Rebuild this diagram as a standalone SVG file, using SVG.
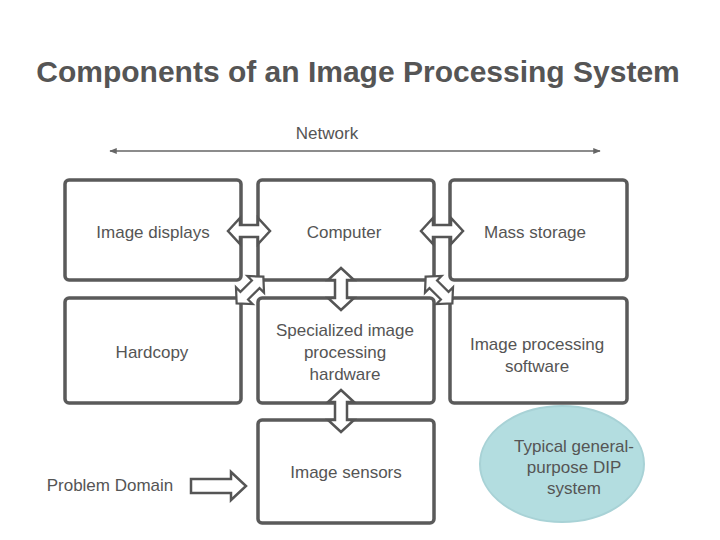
<svg xmlns="http://www.w3.org/2000/svg" width="720" height="540" viewBox="0 0 720 540">
<defs>
<style>
.box{fill:#fff;stroke:#5a5a5a;stroke-width:3.5}
.t{font-family:"Liberation Sans",Arial,sans-serif;font-size:17px;fill:#555;text-anchor:middle}
.title{font-family:"Liberation Sans",Arial,sans-serif;font-size:30px;font-weight:bold;fill:#555;text-anchor:middle}
.arr{fill:#fff;stroke:#555;stroke-width:2.5;stroke-linejoin:miter}
</style>
<path id="dbl" d="M -21,0 L -9,-13 L -9,-6 L 9,-6 L 9,-13 L 21,0 L 9,13 L 9,6 L -9,6 L -9,13 Z"/>
<marker id="ah" viewBox="0 0 10 10" refX="9" refY="5" markerWidth="5" markerHeight="5" orient="auto-start-reverse">
<path d="M0,1 L10,5 L0,9 Z" fill="#666"/>
</marker>
</defs>
<rect width="720" height="540" fill="#fff"/>
<text class="title" x="358" y="82">Components of an Image Processing System</text>
<g id="network">
<text class="t" x="327" y="139" font-size="14">Network</text>
</g>
<g id="n-displays"><rect class="box" x="65" y="180" width="176" height="100" rx="4"/><text class="t" x="153" y="238">Image displays</text></g>
<g id="n-computer"><rect class="box" x="258" y="180" width="176" height="100" rx="4"/><text class="t" x="344" y="238">Computer</text></g>
<g id="n-storage"><rect class="box" x="450" y="180" width="177" height="100" rx="4"/><text class="t" x="535" y="238">Mass storage</text></g>
<g id="n-hardcopy"><rect class="box" x="65" y="298" width="176" height="105" rx="4"/><text class="t" x="152" y="358">Hardcopy</text></g>
<g id="n-hw"><rect class="box" x="258" y="298" width="176" height="105" rx="4"/><text class="t" x="345" y="336">Specialized image</text><text class="t" x="345" y="358">processing</text><text class="t" x="345" y="380">hardware</text></g>
<g id="n-software"><rect class="box" x="450" y="298" width="177" height="105" rx="4"/><text class="t" x="537" y="350">Image processing</text><text class="t" x="537" y="372">software</text></g>
<g id="n-sensors"><rect class="box" x="258" y="420" width="176" height="103" rx="4"/><text class="t" x="346" y="478">Image sensors</text></g>
<g id="n-dip"><ellipse cx="562" cy="464" rx="82" ry="58" fill="#b3dde0" stroke="#a8d2d6" stroke-width="2"/><text class="t" x="574" y="452" font-size="15">Typical general-</text><text class="t" x="574" y="473" font-size="15">purpose DIP</text><text class="t" x="574" y="494" font-size="15">system</text></g>
<g id="n-problem"><text class="t" x="110" y="491">Problem Domain</text></g>
<g id="connectors">
<line x1="110" y1="151" x2="600" y2="151" stroke="#666" stroke-width="1.5" marker-start="url(#ah)" marker-end="url(#ah)"/>
<use href="#dbl" class="arr" transform="translate(249,231)"/>
<use href="#dbl" class="arr" transform="translate(442,231)"/>
<use href="#dbl" class="arr" transform="translate(341,289) rotate(90)"/>
<use href="#dbl" class="arr" transform="translate(341,411) rotate(90)"/>
<use href="#dbl" class="arr" transform="translate(250,290) rotate(-45) scale(0.9)"/>
<use href="#dbl" class="arr" transform="translate(439,290) rotate(45) scale(0.9)"/>
<path class="arr" d="M191,479 L231,479 L231,472 L246,486 L231,500 L231,493 L191,493 Z" fill="#e6e6e6"/>
</g>
</svg>
